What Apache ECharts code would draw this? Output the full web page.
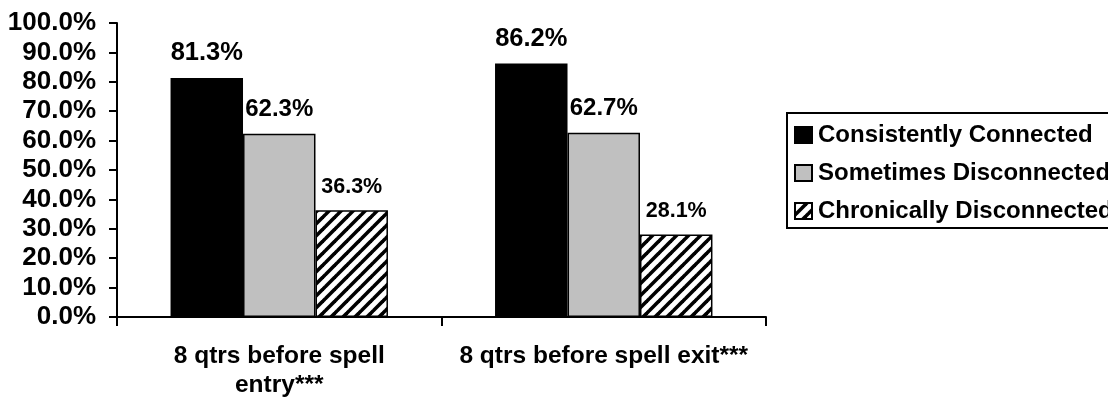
<!DOCTYPE html>
<html>
<head>
<meta charset="utf-8">
<script src="https://cdn.jsdelivr.net/npm/echarts@6/dist/echarts.min.js"></script>
<style>
  html, body { margin: 0; padding: 0; background: #fff; }
  #chart { width: 1108px; height: 402px; }
</style>
</head>
<body>
<div id="chart"></div>
<script>
// Share of people by connection status, two observation windows
const categories = ['8 qtrs before spell\nentry***', '8 qtrs before spell exit***'];
const seriesNames = ['Consistently Connected', 'Sometimes Disconnected', 'Chronically Disconnected'];
const consistentlyConnected = [81.3, 86.2];
const sometimesDisconnected = [62.3, 62.7];
const chronicallyDisconnected = [36.3, 28.1];
const yTicks = [0, 10, 20, 30, 40, 50, 60, 70, 80, 90, 100];

const FONT = '"Liberation Sans", Arial, sans-serif';

// Diagonal hatch tile for the third series
function hatchTile() {
  const s = 12;
  const c = document.createElement('canvas');
  c.width = s; c.height = s;
  const g = c.getContext('2d');
  g.fillStyle = '#fff';
  g.fillRect(0, 0, s, s);
  g.strokeStyle = '#000';
  g.lineWidth = 3.6;
  for (const k of [-s, 0, s]) {
    g.beginPath();
    g.moveTo(k - 1, s + 1);
    g.lineTo(k + s + 1, -1);
    g.stroke();
  }
  return c;
}

const chart = echarts.init(document.getElementById('chart'), null, { renderer: 'canvas' });

function barSeries(name, data, fill, labelSize) {
  return {
    name: name,
    type: 'bar',
    data: data,
    barGap: '0%',
    barCategoryGap: '33%',
    itemStyle: { color: fill, borderColor: '#000', borderWidth: 1.5 },
    label: {
      show: true,
      position: 'top',
      distance: 12,
      color: '#000',
      fontFamily: FONT,
      fontWeight: 'bold',
      fontSize: labelSize,
      formatter: p => p.value.toFixed(1) + '%'
    },
    emphasis: { disabled: true }
  };
}

chart.setOption({
  animation: false,
  backgroundColor: '#fff',
  grid: { left: 117, right: 342, top: 23, bottom: 85, containLabel: false },
  legend: {
    orient: 'vertical',
    left: 787,
    top: 113,
    data: seriesNames,
    icon: 'rect',
    itemWidth: 17,
    itemHeight: 16,
    itemGap: 14,
    padding: [10, 60, 5, 7],
    borderColor: '#000',
    borderWidth: 2,
    backgroundColor: '#fff',
    selectedMode: false,
    textStyle: { color: '#000', fontFamily: FONT, fontWeight: 'bold', fontSize: 24, lineHeight: 23, padding: [0, 0, 0, 1] }
  },
  xAxis: {
    type: 'category',
    data: categories,
    axisLine: { show: true, lineStyle: { color: '#000', width: 2 } },
    axisTick: { show: true, alignWithLabel: false, length: 9, lineStyle: { color: '#000', width: 2 } },
    axisLabel: {
      interval: 0,
      color: '#000',
      fontFamily: FONT,
      fontWeight: 'bold',
      fontSize: 24.5,
      lineHeight: 29,
      margin: 25
    }
  },
  yAxis: {
    type: 'value',
    min: yTicks[0],
    max: yTicks[yTicks.length - 1],
    interval: yTicks[1] - yTicks[0],
    axisLine: { show: true, lineStyle: { color: '#000', width: 2 } },
    axisTick: { show: true, length: 8, lineStyle: { color: '#000', width: 2 } },
    splitLine: { show: false },
    axisLabel: {
      color: '#000',
      fontFamily: FONT,
      fontWeight: 'bold',
      fontSize: 26,
      margin: 21,
      formatter: v => v.toFixed(1) + '%'
    }
  },
  series: [
    barSeries(seriesNames[0], consistentlyConnected, '#000000', 25.5),
    barSeries(seriesNames[1], sometimesDisconnected, '#c0c0c0', 24),
    barSeries(seriesNames[2], chronicallyDisconnected, { image: hatchTile(), repeat: 'repeat' }, 21.5)
  ]
});
</script>
</body>
</html>
